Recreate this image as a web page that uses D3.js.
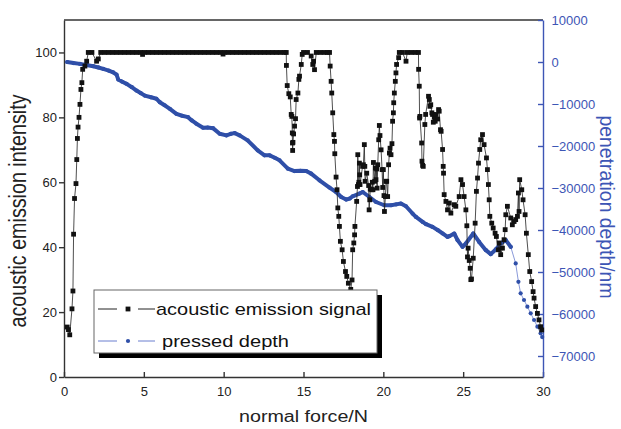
<!DOCTYPE html>
<html>
<head>
<meta charset="utf-8">
<script src="https://cdn.jsdelivr.net/npm/d3@7"></script>
<style>
body{margin:0;background:#fff;}
text{font-family:"Liberation Sans",Arial,sans-serif;}
</style>
</head>
<body>
<svg id="chart" width="621" height="429"></svg>
<script>
// acoustic emission signal: [normal force (N), intensity]
const aeSignal=[
[0.2,15.4],[0.28,14.6],[0.36,13.0],[0.5,21],[0.56,26.5],[0.6,44],[0.66,55],[0.75,59.6],[0.8,67],[0.84,73.5],
[0.88,77],[0.94,80],[1.0,84],[1.06,88.6],[1.12,90.7],[1.17,94.8],[1.31,95.8],[1.42,97.3],[1.52,100],[1.75,100],
[2.04,97.3],[2.15,98],[2.3,100],[2.55,100],[2.8,100],[3.05,100],[3.3,100],[3.55,100],[3.8,100],[4.05,100],
[4.3,100],[4.55,100],[4.8,100],[4.92,99.4],[5.05,100],[5.3,100],[5.55,100],[5.8,100],[6.05,100],[6.3,100],
[6.55,100],[6.8,100],[7.05,100],[7.3,100],[7.55,100],[7.8,100],[8.05,100],[8.3,100],[8.55,100],[8.8,100],
[9.05,100],[9.3,100],[9.55,100],[9.8,100],[9.96,99.5],[10.05,100],[10.3,100],[10.55,100],[10.8,100],[11.05,100],
[11.3,100],[11.55,100],[11.8,100],[12.05,100],[12.3,100],[12.55,100],[12.8,100],[13.05,100],[13.3,100],[13.55,100],
[13.8,100],[13.92,100],[13.93,96],[13.98,89.8],[14.08,87.3],[14.17,86.3],[14.23,80.9],[14.27,80.3],[14.3,75.2],[14.31,72.1],
[14.32,69.8],[14.34,72.3],[14.38,74.9],[14.44,77.3],[14.5,79.6],[14.54,85.5],[14.65,87.5],[14.71,91.7],[14.75,92.7],[14.86,96.3],
[14.92,99.4],[15.0,100],[15.25,100],[15.48,98.9],[15.58,96.3],[15.63,97.3],[15.69,94.7],[15.8,100],[16.05,100],[16.3,100],
[16.5,100],[16.63,100],[16.67,95.8],[16.73,91.1],[16.77,87.5],[16.83,81.4],[16.9,74.7],[16.94,72.6],[16.96,68.8],[17.04,61.6],
[17.1,57.7],[17.15,52.1],[17.21,49.5],[17.25,46.4],[17.31,41.8],[17.42,39.2],[17.5,35.6],[17.63,32.5],[17.71,31],[17.81,28.9],
[17.96,27],[18.04,29.9],[18.08,39.2],[18.15,41.3],[18.2,43.8],[18.22,46.4],[18.33,54.1],[18.38,58.7],[18.4,68.5],[18.44,59.3],
[18.47,60],[18.5,65.9],[18.52,62.3],[18.54,59.3],[18.7,64.9],[18.75,65.4],[18.81,71.6],[18.84,64.9],[18.86,60.3],[18.96,62.8],
[19.08,59],[19.11,51.5],[19.15,54.6],[19.18,57.9],[19.27,57.7],[19.31,60],[19.35,57.7],[19.38,66.1],[19.46,60.3],[19.5,64.4],
[19.54,60.8],[19.58,64.1],[19.61,58.2],[19.65,65.4],[19.71,73.1],[19.75,77.5],[19.79,74.4],[19.86,70],[19.92,63.9],[19.96,58.4],
[20.0,63.9],[20.04,55.9],[20.07,51],[20.13,55.6],[20.17,60.3],[20.21,60.3],[20.27,55.6],[20.33,65.4],[20.38,69],[20.42,70.5],
[20.48,68.5],[20.54,71.9],[20.58,78.8],[20.63,81.4],[20.65,84.5],[20.69,87.5],[20.75,91.1],[20.79,93.7],[20.83,96.3],[20.96,98.4],
[21.0,100],[21.2,100],[21.42,97.3],[21.5,100],[21.75,100],[22.0,100],[22.2,100],[22.21,94.8],[22.25,89.6],[22.27,79.8],
[22.29,80.3],[22.4,72.1],[22.42,66.5],[22.46,65.2],[22.5,64.9],[22.6,77.8],[22.65,80.9],[22.83,86.5],[22.88,85.5],[22.92,83.4],
[22.97,83.9],[23.04,81.4],[23.08,80.9],[23.13,78.5],[23.19,80.1],[23.25,78.8],[23.29,80.9],[23.4,79.5],[23.46,82.4],[23.5,81.9],
[23.58,76.2],[23.62,75.7],[23.71,70.1],[23.75,64.9],[23.77,62.8],[23.81,56.2],[23.92,54.1],[24.02,51.5],[24.13,53.6],[24.23,50.5],
[24.44,53.1],[24.54,52.6],[24.75,55.6],[24.86,60.8],[24.96,59.3],[25.06,55.6],[25.17,51.5],[25.23,46.6],[25.27,37],[25.31,39.7],
[25.38,35.9],[25.44,33.5],[25.48,30],[25.52,30.2],[25.63,36.6],[25.75,47.4],[25.83,57.2],[25.9,61.3],[25.96,65.9],[26.04,70.1],
[26.1,73.1],[26.21,74.7],[26.31,71.6],[26.46,67.5],[26.52,63.9],[26.58,59.3],[26.63,54.6],[26.67,49.5],[26.79,47.4],[26.88,45.9],
[27.0,44.3],[27.08,43.3],[27.21,39.2],[27.25,41.3],[27.35,37.7],[27.46,39.7],[27.56,42.3],[27.63,45.4],[27.67,50],[27.77,52.6],
[27.98,49],[28.08,46.9],[28.19,47.9],[28.29,48.5],[28.4,49.5],[28.46,56.7],[28.5,51],[28.54,60.8],[28.67,57.7],[28.75,54.6],
[28.88,50],[28.96,44.3],[29.08,37.7],[29.17,32.5],[29.29,29.4],[29.38,26.3],[29.44,24.3],[29.54,21.7],[29.65,19.6],[29.75,17.6],
[29.85,15.5],[29.92,14.5]
];

// pressed depth: [normal force (N), depth (nm)]
const pressedDepth=[
[0.2,0],[0.6,-250],[1.0,-450],[1.4,-700],[1.83,-1000],[2.15,-1300],[2.46,-1640],[2.8,-2050],[3.08,-2450],[3.29,-3000],
[3.4,-4180],[3.65,-4700],[3.92,-5200],[4.25,-6000],[4.54,-6800],[4.8,-7400],[5.06,-8000],[5.45,-8400],[5.79,-8760],[6.0,-9570],
[6.3,-10300],[6.63,-11140],[7.04,-12330],[7.4,-12800],[7.77,-13130],[8.0,-13900],[8.29,-14700],[8.71,-15650],[9.0,-15600],[9.33,-15750],
[9.75,-17080],[10.17,-17480],[10.45,-17100],[10.69,-16930],[11.0,-17480],[11.5,-18650],[12.13,-21030],[12.56,-22230],[12.88,-22230],[13.2,-22800],
[13.5,-23420],[14.02,-25390],[14.44,-25960],[14.8,-25900],[15.17,-25960],[15.48,-26580],[16.0,-28170],[16.63,-29900],[17.04,-30950],[17.36,-32140],
[17.67,-32760],[17.9,-32500],[18.08,-31970],[18.5,-31330],[18.71,-30950],[19.13,-32140],[19.54,-33330],[20.06,-34110],[20.48,-34110],[20.8,-33900],
[21.1,-33700],[21.42,-34350],[21.83,-36080],[22.04,-36890],[22.46,-38080],[22.67,-38620],[23.08,-39260],[23.4,-40000],[23.71,-40830],[24.02,-41640],
[24.13,-41470],[24.44,-40830],[24.65,-42420],[24.96,-44010],[25.17,-43210],[25.63,-40830],[26.0,-42830],[26.42,-44800],[26.73,-45750],[27.04,-44630],
[27.35,-43210],[27.67,-42420],[27.98,-44010],[28.29,-47960],[28.46,-52330],[28.6,-55080],[28.81,-56670],[29.02,-58260],[29.23,-59830],[29.44,-61430],
[29.65,-63020],[29.85,-64610],[29.95,-65500]
];

const forceTicks=[0,5,10,15,20,25,30];
const intensityTicks=[0,20,40,60,80,100];
const depthTicks=[10000,0,-10000,-20000,-30000,-40000,-50000,-60000,-70000];
const legendNames=["acoustic emission signal","pressed depth"];

const black="#111", blue="#2f4fa8", axisBlue="#3d55b5";
const plotL=64, plotR=543, plotT=20, plotB=377;

const svg=d3.select('#chart');
const x=d3.scaleLinear().domain([0,30]).range([plotL,plotR]);
const yL=d3.scaleLinear().domain([0,110]).range([plotB,plotT]);
const yR=d3.scaleLinear().domain([-75000,10000]).range([plotB,plotT]);

// frame top line
svg.append('line').attr('x1',plotL).attr('x2',plotR).attr('y1',plotT).attr('y2',plotT)
.attr('stroke','#333').attr('stroke-width',1.4);

// axes
const gx=svg.append('g').attr('transform','translate(0,'+plotB+')')
.call(d3.axisBottom(x).tickValues(forceTicks).tickSize(-5).tickSizeOuter(0).tickPadding(10).tickFormat(d3.format('d')));
const gl=svg.append('g').attr('transform','translate('+plotL+',0)')
.call(d3.axisLeft(yL).tickValues(intensityTicks).tickSize(5).tickSizeOuter(0).tickPadding(2));
const gr=svg.append('g').attr('transform','translate('+plotR+',0)')
.call(d3.axisRight(yR).tickValues(depthTicks).tickSize(-5).tickSizeOuter(0).tickPadding(8.5).tickFormat(d3.format('d')));

[gx,gl].forEach(g=>{
  g.selectAll('path,line').attr('stroke','#333').attr('stroke-width',1.4);
  g.selectAll('text').attr('font-size',13).attr('fill','#222');
});
gr.selectAll('path,line').attr('stroke',axisBlue).attr('stroke-width',1.4);
gr.selectAll('text').attr('font-size',13).attr('fill',axisBlue);

// pressed depth: thick where sampling is dense, dotted tail
const denseEnd=pressedDepth.findIndex(d=>d[0]>28.0);
const line=d3.line().x(d=>x(d[0])).y(d=>yR(d[1]));
svg.append('path').datum(pressedDepth.slice(0,denseEnd))
.attr('d',line).attr('fill','none').attr('stroke',blue).attr('stroke-width',4)
.attr('stroke-linejoin','round').attr('stroke-linecap','round');
svg.append('path').datum(pressedDepth.slice(denseEnd-1))
.attr('d',line).attr('fill','none').attr('stroke','#6b7fcf').attr('stroke-width',0.8);
svg.selectAll('circle.depth').data(pressedDepth).join('circle').attr('class','depth')
.attr('cx',d=>x(d[0])).attr('cy',d=>yR(d[1])).attr('r',2.1).attr('fill',blue);

// acoustic emission signal
const aeLine=d3.line().x(d=>x(d[0])).y(d=>yL(d[1]));
svg.append('path').datum(aeSignal).attr('d',aeLine)
.attr('fill','none').attr('stroke','#222').attr('stroke-width',0.8);
const sq=4.8;
svg.selectAll('rect.ae').data(aeSignal).join('rect').attr('class','ae')
.attr('x',d=>x(d[0])-sq/2).attr('y',d=>yL(d[1])-sq/2)
.attr('width',sq).attr('height',sq).attr('fill',black);

// axis titles
svg.append('text').attr('x',239).attr('y',422).attr('font-size',16)
.attr('textLength',129).attr('lengthAdjust','spacingAndGlyphs').attr('fill','#222')
.text('normal force/N');
svg.append('text').attr('transform','translate(26,211) scale(1.15,1) rotate(-90)')
.attr('text-anchor','middle').attr('font-size',20).attr('fill','#222')
.attr('textLength',233).attr('lengthAdjust','spacingAndGlyphs')
.text('acoustic emission intensity');
svg.append('text').attr('transform','translate(600,207) scale(1.02,1) rotate(90)')
.attr('text-anchor','middle').attr('font-size',19.5).attr('fill',axisBlue)
.attr('textLength',183).attr('lengthAdjust','spacingAndGlyphs')
.text('penetration depth/nm');

// legend
const lg=svg.append('g');
lg.append('rect').attr('x',99).attr('y',295).attr('width',283).attr('height',63).attr('fill','#000');
lg.append('rect').attr('x',94).attr('y',290).attr('width',283).attr('height',63)
.attr('fill','#fff').attr('stroke','#666').attr('stroke-width',1);
const rows=[
  {name:legendNames[0],y:309,line:'#222',mark:'rect',tx:156,tl:215},
  {name:legendNames[1],y:341,line:'#6b7fcf',mark:'circle',tx:162,tl:127}
];
rows.forEach(r=>{
  lg.append('line').attr('x1',98).attr('x2',117).attr('y1',r.y).attr('y2',r.y).attr('stroke',r.line).attr('stroke-width',1);
  lg.append('line').attr('x1',138).attr('x2',155).attr('y1',r.y).attr('y2',r.y).attr('stroke',r.line).attr('stroke-width',1);
  if(r.mark=='rect'){
    lg.append('rect').attr('x',128-sq/2).attr('y',r.y-sq/2).attr('width',sq).attr('height',sq).attr('fill',black);
  }else{
    lg.append('circle').attr('cx',128).attr('cy',r.y).attr('r',2.1).attr('fill',blue);
  }
  lg.append('text').attr('x',r.tx).attr('y',r.y+6).attr('font-size',17).attr('fill','#111')
  .attr('textLength',r.tl).attr('lengthAdjust','spacingAndGlyphs').text(r.name);
});
</script>
</body>
</html>
